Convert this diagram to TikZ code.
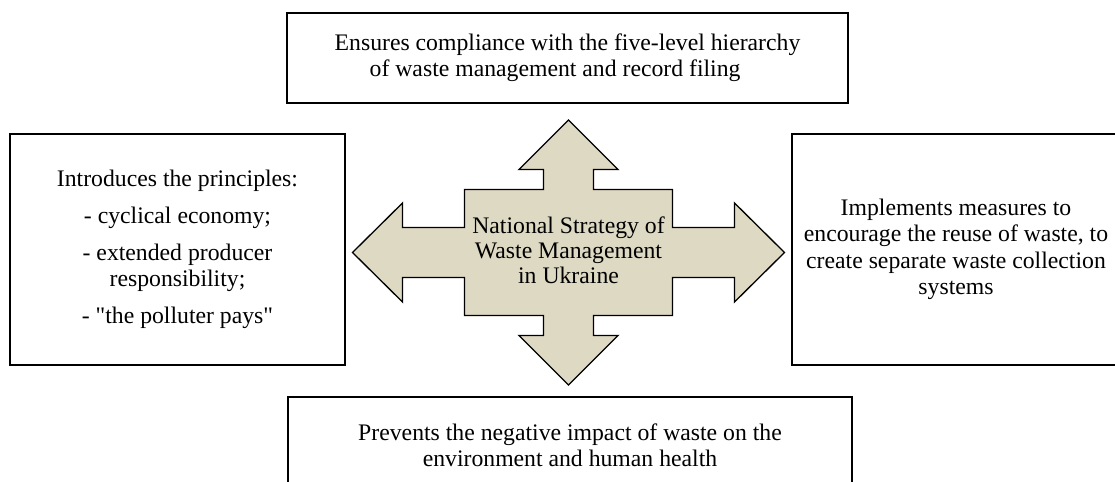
\documentclass[tikz,border=0pt]{standalone}
\usepackage{fontspec}
\setmainfont{Liberation Serif}[Ligatures=TeXOff]
\usepackage{tikz}
\usetikzlibrary{positioning}
\definecolor{strategyfill}{HTML}{DDD9C3}

\begin{document}
\begin{tikzpicture}[x=0.02cm, y=-0.02cm,
    box/.style={draw, rectangle, line width=1.1pt, align=center, inner sep=0pt,
                font=\fontsize{13.5}{15}\selectfont},
    hubarrow/.style={draw, line width=0.75pt, fill=strategyfill, line join=miter}]
    % page frame
    \useasboundingbox (0,0) rectangle (1115,482);
    \clip (0,0) rectangle (1115,482);

    % four-way arrow round the strategy
    \coordinate (hubc) at (568.5,252.5);
    \draw[hubarrow, shift={(hubc)}] (0,-132.5) -- (49.5,-83) -- (25,-83) -- (25,-63)
          -- (104,-63) -- (104,-25) -- (166,-25) -- (166,-49.5) -- (216,0)
          -- (166,49.5) -- (166,25) -- (104,25) -- (104,63) -- (25,63) -- (25,83)
          -- (49.5,83) -- (0,132.5) -- (-49.5,83) -- (-25,83) -- (-25,63)
          -- (-104,63) -- (-104,25) -- (-166,25) -- (-166,49.5) -- (-216,0)
          -- (-166,-49.5) -- (-166,-25) -- (-104,-25) -- (-104,-63) -- (-25,-63)
          -- (-25,-83) -- (-49.5,-83) -- cycle;
    \node[align=center, inner sep=0pt, font=\fontsize{13.5}{14.2}\selectfont]
          (strategy) at (568.5,250) {National Strategy of\\Waste Management\\in Ukraine};

    % surrounding boxes
    \node[box, minimum width=11.22cm, minimum height=1.806cm, align=left] (hierarchy) at (567.5,57.9)
          {Ensures compliance with the five-level hierarchy\\\hspace*{0.7cm}of waste management and record filing};
    \node[box, minimum width=6.7cm, minimum height=4.62cm] (principles) at (177.5,249.5)
          {Introduces the principles:\\[6pt]- cyclical economy;\\[6pt]- extended producer\\responsibility;\\[6pt]- "the polluter pays"};
    \node[box, minimum width=6.57cm, minimum height=4.62cm] (measures) at (956,249.5)
          {Implements measures to\\encourage the reuse of waste, to\\create separate waste collection\\systems};
    \node[box, minimum width=11.28cm, minimum height=1.93cm] (prevention) at (570,445)
          {Prevents the negative impact of waste on the\\environment and human health};
\end{tikzpicture}
\end{document}
